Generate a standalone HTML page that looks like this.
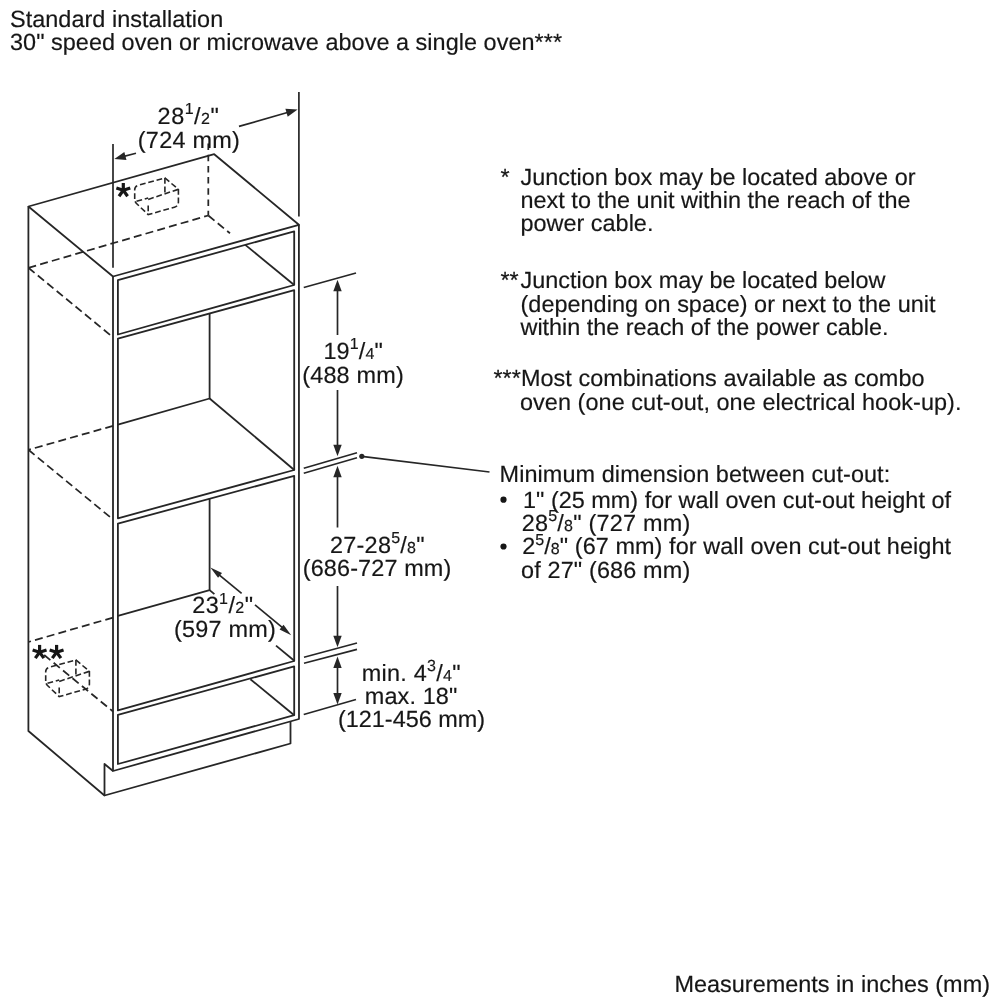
<!DOCTYPE html>
<html><head><meta charset="utf-8"><title>Standard installation</title>
<style>
html,body{margin:0;padding:0;background:#fff;}
body{width:1000px;height:1000px;overflow:hidden;}
svg{display:block;will-change:transform;}
text{font-family:"Liberation Sans",sans-serif;font-size:23.45px;fill:#161616;stroke:#161616;stroke-width:0.18px;text-rendering:geometricPrecision;}
</style></head><body>
<svg width="1000" height="1000" viewBox="0 0 1000 1000">
<rect width="1000" height="1000" fill="#ffffff"/>
<g fill="none" stroke="#262626" stroke-width="1.8" stroke-linejoin="round" stroke-linecap="butt">
<path d="M28.4 206.5 L214.2 154.2 L298.9 224.8 L113 276.5 Z" />
<path d="M28.4 206.4 L28.4 731 L104.5 795.5 L290.5 743.5 L290.5 721.5" />
<path d="M104.5 795.5 L104.5 764 L113 771" />
<path d="M113 276.5 L113 771 L299 719 L298.9 224.8" />
<path d="M117.9 280.2 L294.2 231.3 L294.2 285.0 L117.9 334.5 Z" />
<path d="M117.9 338.7 L294.2 290.2 L294.2 470.0 L117.9 518.3 Z" />
<path d="M117.9 523.7 L294.2 475.8 L294.2 661.0 L117.9 710.4 Z" />
<path d="M117.9 714.9 L294.2 666.4 L294.2 715.2 L117.9 764.0 Z" />
<line x1="245.3" y1="244.9" x2="294.2" y2="285.0" />
<path d="M209.6 313.5 L209.6 398.5 L117.9 424.6" />
<line x1="209.6" y1="398.5" x2="294.6" y2="470.2" />
<path d="M209.6 498.5 L209.6 590.1 L117.9 615.8" />
<line x1="209.6" y1="590.1" x2="214.4" y2="594.1" />
<line x1="276" y1="645.6" x2="294.6" y2="661" />
<line x1="250.4" y1="679.2" x2="294.2" y2="715.2" />
</g>
<g fill="none" stroke="#262626" stroke-width="1.75" stroke-dasharray="8 4.2">
<line x1="28.4" y1="267.8" x2="208.3" y2="215.5" />
<line x1="208.3" y1="143.5" x2="208.3" y2="215.5" stroke-dasharray="6.5 4.7"/>
<line x1="208.3" y1="215.5" x2="230" y2="233.3" />
<line x1="28.4" y1="267.8" x2="113" y2="337.3" />
<line x1="113" y1="425.9" x2="28.4" y2="449.8" />
<line x1="28.4" y1="449.8" x2="113" y2="519.5" />
<line x1="113" y1="617.6" x2="28.4" y2="642" />
<line x1="44.2" y1="655" x2="113" y2="711.5" />
</g>
<g fill="none" stroke="#262626" stroke-width="1.6" stroke-dasharray="5.8 2.8">
<path d="M134.7 199.1 L134.7 189.8 Q134.7 186.3 138.29999999999998 185.3 L164.9 178 L178.4 189.3 L178.4 202 Q178.4 206 174.4 207.2 L148.2 214.6 L137.0 204.0 Q134.5 201.6 134.7 199.1"/>
<line x1="148.2" y1="199.4" x2="178.4" y2="189.3" />
<line x1="164.9" y1="178" x2="164.9" y2="193.2" />
<line x1="148.2" y1="205.4" x2="148.2" y2="214.6" />
<line x1="136.5" y1="201.29999999999998" x2="148.2" y2="197.9" />
<path d="M45.69999999999999 681.1 L45.69999999999999 671.8 Q45.69999999999999 668.3 49.29999999999999 667.3 L75.9 660 L89.4 671.3 L89.4 684 Q89.4 688 85.4 689.2 L59.19999999999999 696.6 L48.0 686.0 Q45.5 683.6 45.69999999999999 681.1"/>
<line x1="59.19999999999999" y1="681.4" x2="89.4" y2="671.3" />
<line x1="75.9" y1="660" x2="75.9" y2="675.2" />
<line x1="59.19999999999999" y1="687.4" x2="59.19999999999999" y2="696.6" />
<line x1="47.5" y1="683.3000000000001" x2="59.19999999999999" y2="679.9" />
</g>
<g fill="none" stroke="#262626" stroke-width="1.7">
<line x1="113" y1="144" x2="113" y2="267.8" />
<line x1="298.9" y1="92" x2="298.9" y2="216.5" />
<line x1="136" y1="153.2" x2="120" y2="157.4" />
<line x1="239" y1="126.4" x2="290" y2="111.8" />
<line x1="337.5" y1="288" x2="337.5" y2="335" />
<line x1="337.5" y1="390" x2="337.5" y2="448" />
<line x1="337.5" y1="474" x2="337.5" y2="527.5" />
<line x1="337.5" y1="586" x2="337.5" y2="639" />
<line x1="337.5" y1="664" x2="337.5" y2="697" />
<line x1="303.75" y1="287.5" x2="356" y2="273" />
<line x1="303.75" y1="468.2" x2="357" y2="452.8" />
<line x1="303.75" y1="473.2" x2="357" y2="457.8" />
<line x1="304" y1="657.2" x2="357" y2="643" />
<line x1="304" y1="663.3" x2="357" y2="649.4" />
<line x1="303.75" y1="714.5" x2="356" y2="699.5" />
<line x1="361.8" y1="456.3" x2="489.5" y2="472" />
<line x1="217" y1="573.2" x2="241.6" y2="593.4" />
<line x1="255" y1="604.8" x2="284" y2="628.8" />
</g>
<g>
<path d="M114.30 158.90 L124.34 151.89 L126.49 160.01 Z" fill="#262626" stroke="none"/>
<path d="M297.60 109.60 L287.70 116.81 L285.39 108.74 Z" fill="#262626" stroke="none"/>
<path d="M337.50 279.80 L341.70 291.30 L333.30 291.30 Z" fill="#262626" stroke="none"/>
<path d="M337.50 456.20 L333.30 444.70 L341.70 444.70 Z" fill="#262626" stroke="none"/>
<path d="M337.50 465.80 L341.70 477.30 L333.30 477.30 Z" fill="#262626" stroke="none"/>
<path d="M337.50 647.20 L333.30 635.70 L341.70 635.70 Z" fill="#262626" stroke="none"/>
<path d="M337.50 656.60 L341.70 668.10 L333.30 668.10 Z" fill="#262626" stroke="none"/>
<path d="M337.50 704.60 L333.30 693.10 L341.70 693.10 Z" fill="#262626" stroke="none"/>
<circle cx="361.8" cy="456.3" r="2.6" fill="#262626"/>
<path d="M210.40 567.40 L222.00 573.00 L218.04 577.77 Z" fill="#262626" stroke="none"/>
<path d="M291.20 635.20 L279.60 629.60 L283.56 624.83 Z" fill="#262626" stroke="none"/>
<circle cx="503.5" cy="499.7" r="3.1" fill="#161616"/>
<circle cx="503.5" cy="546.5" r="3.1" fill="#161616"/>
</g>
<g stroke="#161616" stroke-width="3.2" stroke-linecap="butt"><line x1="123.3" y1="190.3" x2="123.30" y2="183.00"/><line x1="123.3" y1="190.3" x2="130.24" y2="188.04"/><line x1="123.3" y1="190.3" x2="127.59" y2="196.21"/><line x1="123.3" y1="190.3" x2="119.01" y2="196.21"/><line x1="123.3" y1="190.3" x2="116.36" y2="188.04"/></g><g stroke="#161616" stroke-width="3.2" stroke-linecap="butt"><line x1="39.6" y1="652.2" x2="39.60" y2="644.90"/><line x1="39.6" y1="652.2" x2="46.54" y2="649.94"/><line x1="39.6" y1="652.2" x2="43.89" y2="658.11"/><line x1="39.6" y1="652.2" x2="35.31" y2="658.11"/><line x1="39.6" y1="652.2" x2="32.66" y2="649.94"/></g><g stroke="#161616" stroke-width="3.2" stroke-linecap="butt"><line x1="56.6" y1="652.2" x2="56.60" y2="644.90"/><line x1="56.6" y1="652.2" x2="63.54" y2="649.94"/><line x1="56.6" y1="652.2" x2="60.89" y2="658.11"/><line x1="56.6" y1="652.2" x2="52.31" y2="658.11"/><line x1="56.6" y1="652.2" x2="49.66" y2="649.94"/></g>
<g>
<text x="10.0" y="27.0" textLength="213.2" lengthAdjust="spacing" >Standard installation</text>
<text x="10.0" y="49.9" textLength="552" lengthAdjust="spacing" >30&quot; speed oven or microwave above a single oven***</text>
<text x="500.5" y="184.5" >*</text>
<text x="520.5" y="184.5" textLength="395" lengthAdjust="spacing" >Junction box may be located above or</text>
<text x="520.5" y="208" textLength="390" lengthAdjust="spacing" >next to the unit within the reach of the</text>
<text x="520.5" y="231.3" >power cable.</text>
<text x="500.5" y="288" >**</text>
<text x="520.5" y="288" textLength="365" lengthAdjust="spacing" >Junction box may be located below</text>
<text x="520.5" y="311.6" textLength="415" lengthAdjust="spacing" >(depending on space) or next to the unit</text>
<text x="520.5" y="335" textLength="368" lengthAdjust="spacing" >within the reach of the power cable.</text>
<text x="493.5" y="386.4" >***</text>
<text x="521.0" y="386.4" textLength="403.5" lengthAdjust="spacing" >Most combinations available as combo</text>
<text x="520" y="410.1" textLength="441.5" lengthAdjust="spacing" >oven (one cut-out, one electrical hook-up).</text>
<text x="499.6" y="481.6" textLength="390.6" lengthAdjust="spacing" >Minimum dimension between cut-out:</text>
<text x="523" y="507.5" textLength="428" lengthAdjust="spacing" >1&quot; (25 mm) for wall oven cut-out height of</text>
<text x="521.7" y="530.75" textLength="168.5" lengthAdjust="spacing" >28<tspan font-size="16" dy="-9.6">5</tspan><tspan dy="9.6">/</tspan><tspan font-size="16">8</tspan>&quot; (727 mm)</text>
<text x="522.2" y="554.3" textLength="428.8" lengthAdjust="spacing" >2<tspan font-size="16" dy="-9.6">5</tspan><tspan dy="9.6">/</tspan><tspan font-size="16">8</tspan>&quot; (67 mm) for wall oven cut-out height</text>
<text x="521" y="578" textLength="169.2" lengthAdjust="spacing" >of 27&quot; (686 mm)</text>
<text x="674.4" y="992.3" textLength="315.6" lengthAdjust="spacing" >Measurements in inches (mm)</text>
<text x="157.6" y="123.75" textLength="61.25" lengthAdjust="spacing" >28<tspan font-size="16" dy="-9.6">1</tspan><tspan dy="9.6">/</tspan><tspan font-size="16">2</tspan>&quot;</text>
<text x="137.8" y="147.75" textLength="102" lengthAdjust="spacing" >(724 mm)</text>
<text x="323.4" y="358.8" textLength="59.5" lengthAdjust="spacing" >19<tspan font-size="16" dy="-9.6">1</tspan><tspan dy="9.6">/</tspan><tspan font-size="16">4</tspan>&quot;</text>
<text x="302.2" y="382.8" textLength="101.5" lengthAdjust="spacing" >(488 mm)</text>
<text x="330" y="553" textLength="94.5" lengthAdjust="spacing" >27-28<tspan font-size="16" dy="-9.6">5</tspan><tspan dy="9.6">/</tspan><tspan font-size="16">8</tspan>&quot;</text>
<text x="302.75" y="576.2" textLength="148.5" lengthAdjust="spacing" >(686-727 mm)</text>
<text x="192.2" y="613.2" textLength="60.8" lengthAdjust="spacing" >23<tspan font-size="16" dy="-9.6">1</tspan><tspan dy="9.6">/</tspan><tspan font-size="16">2</tspan>&quot;</text>
<text x="174" y="636.8" textLength="101.8" lengthAdjust="spacing" >(597 mm)</text>
<text x="361.75" y="680.5" textLength="98.75" lengthAdjust="spacing" >min. 4<tspan font-size="16" dy="-9.6">3</tspan><tspan dy="9.6">/</tspan><tspan font-size="16">4</tspan>&quot;</text>
<text x="364.8" y="704" textLength="92.5" lengthAdjust="spacing" >max. 18&quot;</text>
<text x="338" y="727.2" textLength="147" lengthAdjust="spacing" >(121-456 mm)</text>
</g>
</svg>
</body></html>
